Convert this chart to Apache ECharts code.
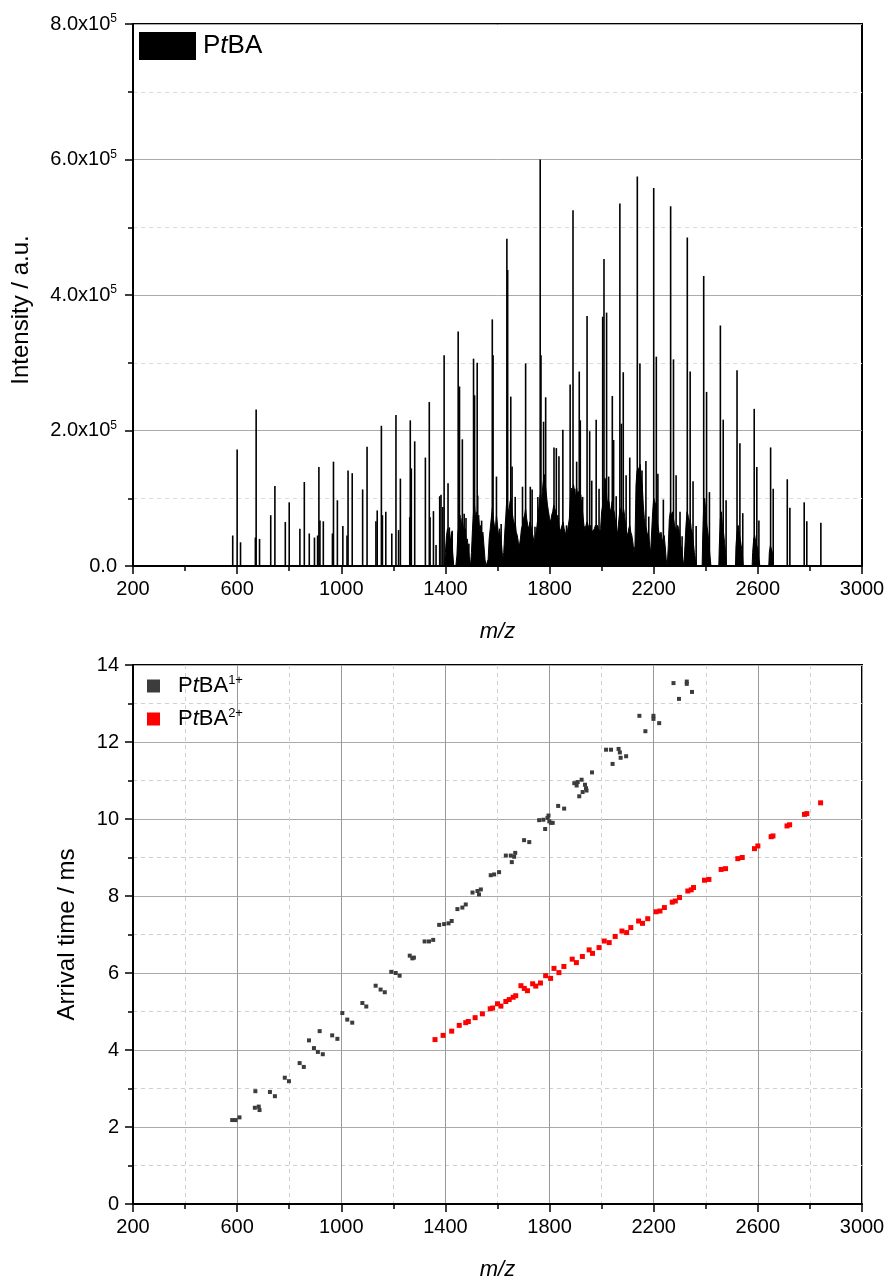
<!DOCTYPE html>
<html>
<head>
<meta charset="utf-8">
<title>PtBA mass spectrum and arrival times</title>
<script src="https://cdn.jsdelivr.net/npm/echarts@6/dist/echarts.min.js"></script>
<style>
  html, body { margin: 0; padding: 0; background: #fff; }
  #chart { width: 888px; height: 1282px; }
</style>
</head>
<body>
<div id="chart"></div>
<script>
// ---- Mass spectrum: main peaks [m/z, intensity (x10^5 a.u.)] ----
const spectrumPeaks = [
  [583,0.45],[600,1.72],[613,0.35],[670,0.42],[673,2.31],[686,0.40],
  [729,0.75],[745,1.18],[785,0.65],[800,0.94],[841,0.55],[858,1.24],
  [877,0.48],[897,0.42],[909,0.45],[914,1.46],[918,0.67],[931,0.66],
  [966,0.48],[970,1.54],[985,0.97],[1006,0.59],[1022,0.45],[1026,1.41],
  [1042,1.37],[1082,1.13],[1099,1.76],[1133,0.66],[1138,0.82],[1154,2.07],
  [1158,0.75],[1171,0.80],[1194,0.48],[1210,2.23],[1220,0.53],[1227,1.29],
  [1263,0.72],[1265,2.15],[1269,1.44],[1282,1.84],[1323,1.60],[1338,2.42],
  [1341,0.72],[1354,0.81],[1364,0.31],[1378,1.03],[1383,1.05],[1390,0.87],
  [1395,3.11],[1410,1.22],[1415,0.57],[1426,0.52],[1449,3.46],[1454,2.65],
  [1465,1.87],[1472,0.77],[1479,0.71],[1490,0.33],[1508,3.06],[1512,2.52],
  [1522,3.00],[1524,1.04],[1539,0.67],[1580,3.64],[1583,3.11],[1596,1.32],
  [1614,0.62],[1636,4.83],[1639,4.37],[1651,2.50],[1656,1.47],[1668,1.02],
  [1696,1.17],[1708,2.99],[1726,1.17],[1733,1.13],[1744,0.58],[1755,1.02],
  [1764,6.00],[1767,3.11],[1777,2.13],[1785,2.49],[1817,1.75],[1826,1.74],
  [1836,1.62],[1851,2.01],[1865,0.60],[1879,2.68],[1890,5.25],[1897,1.14],
  [1904,1.54],[1914,2.87],[1918,2.15],[1927,1.02],[1944,3.69],[1954,1.99],
  [1962,1.26],[1979,2.16],[1990,1.14],[2004,3.68],[2009,4.53],[2019,3.74],
  [2027,1.32],[2041,2.51],[2046,1.86],[2056,1.03],[2070,5.35],[2076,2.10],
  [2083,2.86],[2094,1.34],[2108,1.60],[2137,5.75],[2147,2.99],[2155,1.41],
  [2170,1.55],[2181,0.73],[2200,5.58],[2210,3.09],[2216,1.36],[2237,0.98],
  [2265,5.31],[2276,3.05],[2286,1.34],[2301,0.80],[2309,0.44],[2329,4.85],
  [2340,2.87],[2351,1.25],[2363,0.59],[2392,4.28],[2403,2.57],[2414,1.09],
  [2456,3.55],[2467,2.16],[2478,0.97],[2520,2.89],[2531,1.81],[2542,0.78],
  [2586,2.32],[2596,1.46],[2604,0.67],[2649,1.75],[2659,1.14],[2713,1.28],
  [2723,0.86],[2778,0.94],[2788,0.66],[2842,0.64]
];

// ---- Dense low-intensity background between the main peaks [m/z, intensity (x10^5)] ----
const spectrumBackground = [
  [1396,0],[1400,0.20],[1404,0.45],[1408,0.55],[1412,0.40],[1416,0.50],[1420,0.35],[1424,0.50],[1428,0.20],[1432,0],
  [1440,0],[1444,0.15],[1448,0.50],[1452,0.60],[1456,0.75],[1460,0.55],[1464,0.70],[1468,0.60],[1472,0.45],[1476,0.55],
  [1480,0.35],[1484,0.40],[1488,0.25],[1492,0.10],[1496,0],[1500,0.20],[1504,0.55],[1508,0.80],[1512,0.90],[1516,0.70],
  [1520,0.80],[1524,0.60],[1528,0.75],[1532,0.50],[1536,0.60],[1540,0.45],[1544,0.50],[1548,0.30],[1552,0.10],[1556,0],
  [1564,0.10],[1568,0.40],[1572,0.55],[1576,0.70],[1580,0.85],[1584,0.70],[1588,0.60],[1592,0.55],[1596,0.75],[1600,0.60],
  [1604,0.45],[1608,0.55],[1612,0.40],[1616,0.30],[1620,0.10],[1624,0.20],[1628,0.50],[1632,0.75],[1636,1.00],[1640,0.85],
  [1644,0.80],[1648,0.95],[1652,1.00],[1656,0.80],[1660,0.70],[1664,0.60],[1668,0.65],[1672,0.50],[1676,0.45],[1680,0.35],
  [1684,0.30],[1688,0.40],[1692,0.55],[1696,0.60],[1700,0.70],[1704,0.75],[1708,0.85],[1712,0.70],[1716,0.60],[1720,0.55],
  [1724,0.65],[1728,0.60],[1732,0.50],[1736,0.45],[1740,0.35],[1744,0.40],[1748,0.50],[1752,0.60],[1756,0.75],[1760,0.90],
  [1764,1.05],[1768,0.90],[1772,1.10],[1776,1.25],[1780,1.35],[1784,1.20],[1788,1.05],[1792,0.90],[1796,0.80],[1800,0.70],
  [1804,0.65],[1808,0.75],[1812,0.80],[1816,0.90],[1820,0.85],[1824,0.80],[1828,0.70],[1832,0.75],[1836,0.60],[1840,0.50],
  [1844,0.55],[1848,0.60],[1852,0.65],[1856,0.55],[1860,0.50],[1864,0.45],[1868,0.50],[1872,0.60],[1876,0.70],[1880,1.00],
  [1884,1.15],[1888,1.10],[1892,1.20],[1896,1.10],[1900,1.00],[1904,1.15],[1908,1.05],[1912,1.10],[1916,1.00],[1920,1.05],
  [1924,0.90],[1928,0.75],[1932,0.60],[1936,0.55],[1940,0.60],[1944,0.65],[1948,0.60],[1952,0.55],[1956,0.60],[1960,0.55],
  [1964,0.50],[1968,0.50],[1972,0.55],[1976,0.60],[1980,0.55],[1984,0.60],[1988,0.55],[1992,0.50],[1996,0.55],[2000,0.80],
  [2004,0.90],[2008,1.00],[2012,1.30],[2016,1.25],[2020,1.00],[2024,0.90],[2028,0.95],[2032,0.85],[2036,0.80],[2040,0.95],
  [2044,0.85],[2048,0.80],[2052,0.70],[2056,0.55],[2060,0.45],[2064,0.60],[2068,0.75],[2072,0.85],[2076,0.80],[2080,0.75],
  [2084,0.85],[2088,0.75],[2092,0.60],[2096,0.50],[2100,0.45],[2104,0.55],[2108,0.60],[2112,0.50],[2116,0.45],[2120,0.35],
  [2124,0.20],[2128,0.30],[2132,1.20],[2136,1.40],[2140,1.45],[2144,1.40],[2148,1.50],[2152,1.30],[2156,1.20],[2160,0.90],
  [2164,0.70],[2168,0.60],[2172,0.55],[2176,0.45],[2180,0.50],[2184,0.30],[2188,0.20],[2192,0.50],[2196,0.80],[2200,1.00],
  [2204,0.95],[2208,0.90],[2212,0.70],[2216,0.60],[2220,0.50],[2224,0.45],[2228,0.50],[2232,0.40],[2236,0.35],[2240,0.45],
  [2244,0.30],[2248,0.10],[2252,0],[2256,0.30],[2260,0.70],[2264,0.80],[2268,0.75],[2272,0.80],[2276,0.70],[2280,0.60],
  [2284,0.55],[2288,0.50],[2292,0.60],[2296,0.55],[2300,0.45],[2304,0.30],[2308,0.25],[2312,0.10],[2316,0],[2320,0.30],
  [2324,0.60],[2328,0.80],[2332,0.75],[2336,0.60],[2340,0.70],[2344,0.55],[2348,0.50],[2352,0.35],[2356,0.20],[2360,0.10],
  [2364,0],[2386,0],[2388,0.40],[2392,0.90],[2396,1.00],[2400,0.80],[2404,0.60],[2408,0.50],[2412,0.35],[2416,0.15],
  [2420,0],[2450,0],[2452,0.30],[2456,0.70],[2460,0.80],[2464,0.60],[2468,0.50],[2472,0.35],[2476,0.20],[2480,0],
  [2514,0],[2516,0.30],[2520,0.50],[2524,0.60],[2528,0.50],[2532,0.40],[2536,0.30],[2540,0.20],[2544,0],
  [2578,0],[2580,0.20],[2584,0.40],[2588,0.45],[2592,0.35],[2596,0.30],[2600,0.25],[2604,0.10],[2608,0],
  [2642,0],[2644,0.20],[2648,0.30],[2652,0.25],[2656,0.20],[2660,0]
];

// ---- Arrival time vs m/z: singly charged ions [m/z, ms] ----
const arrivalCharge1 = [
  [581,2.18],[594,2.18],[609,2.25],[670,2.93],[668,2.50],[683,2.53],[686,2.44],
  [726,2.91],[745,2.80],[783,3.28],[799,3.19],[840,3.66],[856,3.56],
  [876,4.25],[895,4.05],[910,3.95],[929,3.89],[917,4.49],[965,4.38],[985,4.29],
  [1004,4.96],[1023,4.79],[1042,4.71],[1081,5.22],[1096,5.13],
  [1132,5.67],[1151,5.57],[1167,5.50],[1192,6.03],[1209,6.00],[1224,5.93],
  [1263,6.45],[1273,6.38],[1279,6.40],[1320,6.82],[1337,6.82],[1353,6.86],
  [1376,7.25],[1395,7.27],[1412,7.29],[1424,7.35],[1446,7.66],[1465,7.70],[1478,7.78],
  [1504,8.09],[1523,8.13],[1529,8.04],[1536,8.17],[1574,8.54],[1587,8.56],[1606,8.62],
  [1632,9.05],[1651,9.05],[1655,8.88],[1664,9.02],[1668,9.12],[1702,9.45],[1722,9.40],
  [1760,9.97],[1776,9.98],[1783,9.74],[1792,10.03],[1796,10.09],[1799,9.94],[1805,9.90],[1812,9.90],
  [1833,10.34],[1856,10.27],[1895,10.93],[1904,10.87],[1908,10.96],[1914,10.59],[1923,11.02],
  [1927,10.70],[1936,10.89],[1940,10.80],[1942,10.74],[1963,11.21],
  [2017,11.80],[2036,11.80],[2042,11.43],[2065,11.82],[2070,11.73],[2073,11.59],[2094,11.63],
  [2145,12.68],[2168,12.28],[2199,12.68],[2199,12.60],[2221,12.49],
  [2276,13.53],[2297,13.12],[2327,13.57],[2327,13.51],[2347,13.30]
];

// ---- Arrival time vs m/z: doubly charged ions [m/z, ms] ----
const arrivalCharge2 = [
  [1360,4.27],[1391,4.38],[1424,4.49],[1453,4.64],[1478,4.71],[1488,4.74],[1514,4.84],
  [1542,4.94],[1572,5.07],[1581,5.09],[1600,5.20],[1613,5.14],[1632,5.26],[1645,5.31],
  [1660,5.37],[1670,5.41],[1690,5.67],[1703,5.60],[1715,5.54],[1735,5.72],[1747,5.66],
  [1765,5.74],[1785,5.93],[1804,5.86],[1817,6.12],[1836,6.01],[1855,6.17],[1887,6.36],
  [1903,6.27],[1926,6.43],[1952,6.60],[1965,6.51],[1990,6.66],[2010,6.83],[2029,6.79],
  [2052,6.95],[2078,7.09],[2096,7.05],[2112,7.18],[2142,7.35],[2157,7.29],[2177,7.41],
  [2209,7.59],[2224,7.61],[2241,7.70],[2271,7.84],[2283,7.87],[2299,7.96],[2331,8.13],
  [2344,8.16],[2353,8.22],[2395,8.41],[2412,8.43],[2459,8.69],[2476,8.71],[2523,8.97],
  [2540,9.00],[2587,9.23],[2600,9.30],[2651,9.54],[2658,9.56],[2712,9.82],[2722,9.85],
  [2779,10.12],[2788,10.14],[2841,10.42]
];

// ---- Axis ranges ----
const mzRange = { min: 200, max: 3000, interval: 400 };
const intensityRange = { min: 0, max: 8, interval: 2 };   // x10^5
const timeRange = { min: 0, max: 14, interval: 2 };

const FONT = '"Liberation Sans", Arial, sans-serif';

const chart = echarts.init(document.getElementById('chart'), null, { renderer: 'canvas' });

function xAxisFor(gridIndex, gridLines) {
  return {
    type: 'value', gridIndex,
    min: mzRange.min, max: mzRange.max, interval: mzRange.interval,
    name: 'm/z', nameLocation: 'middle', nameGap: 55,
    nameTextStyle: { fontFamily: FONT, fontSize: 22, fontStyle: 'italic', color: '#000' },
    axisLine: { show: true, onZero: false, lineStyle: { color: '#000', width: 2 } },
    axisTick: { show: true, inside: false, length: 8, lineStyle: { color: '#000', width: 1.5 } },
    minorTick: { show: true, splitNumber: 2, length: 5, lineStyle: { color: '#000', width: 1.5 } },
    axisLabel: { fontFamily: FONT, fontSize: 20, color: '#000', margin: 13, formatter: v => String(v) },
    splitLine: { show: gridLines, lineStyle: { color: '#999', width: 1 } },
    minorSplitLine: { show: gridLines, lineStyle: { color: '#d0d0d0', width: 1, type: [4, 4] } }
  };
}

const option = {
  backgroundColor: '#fff',
  animation: false,
  grid: [
    { left: 133, right: 26, top: 24, bottom: 716, show: true, borderColor: '#000', borderWidth: 2, backgroundColor: 'transparent' },
    { left: 133, right: 26, top: 665, bottom: 78, show: true, borderColor: '#000', borderWidth: 2, backgroundColor: 'transparent' }
  ],
  legend: [
    {
      data: ['PtBA'], left: 134, top: 27, orient: 'vertical',
      icon: 'rect', itemWidth: 57, itemHeight: 28,
      formatter: () => '{n|P}{i|t}{n|BA}',
      textStyle: {
        padding: [0, 0, 0, 2],
        rich: {
          n: { fontFamily: FONT, fontSize: 26, color: '#000' },
          i: { fontFamily: FONT, fontSize: 26, fontStyle: 'italic', color: '#000' }
        }
      },
      selectedMode: false
    },
    {
      data: ['PtBA1', 'PtBA2'], left: 142, top: 669, orient: 'vertical',
      icon: 'rect', itemWidth: 13, itemHeight: 13, itemGap: 10,
      formatter: name => '{n|P}{i|t}{n|BA}{s|' + (name === 'PtBA1' ? '1+' : '2+') + '}',
      textStyle: {
        padding: [0, 0, 0, 13],
        rich: {
          n: { fontFamily: FONT, fontSize: 22, color: '#000', lineHeight: 24 },
          i: { fontFamily: FONT, fontSize: 22, fontStyle: 'italic', color: '#000', lineHeight: 24 },
          s: { fontFamily: FONT, fontSize: 13, color: '#000', verticalAlign: 'top', lineHeight: 13, padding: [0, 0, 8, 0] }
        }
      },
      selectedMode: false
    }
  ],
  xAxis: [xAxisFor(0, false), xAxisFor(1, true)],
  yAxis: [
    {
      type: 'value', gridIndex: 0,
      min: intensityRange.min, max: intensityRange.max, interval: intensityRange.interval,
      name: 'Intensity / a.u.', nameLocation: 'middle', nameGap: 100,
      nameTextStyle: { fontFamily: FONT, fontSize: 24, color: '#000', padding: [0, 30, 0, 0] },
      axisLine: { show: true, onZero: false, lineStyle: { color: '#000', width: 2 } },
      axisTick: { show: true, inside: false, length: 8, lineStyle: { color: '#000', width: 1.5 } },
      minorTick: { show: true, splitNumber: 2, length: 5, lineStyle: { color: '#000', width: 1.5 } },
      axisLabel: {
        fontFamily: FONT, fontSize: 20, color: '#000', margin: 16,
        formatter: v => v === 0 ? '0.0' : '{m|' + v.toFixed(1) + 'x10}{e|5}',
        rich: {
          m: { fontFamily: FONT, fontSize: 20, color: '#000', lineHeight: 22 },
          e: { fontFamily: FONT, fontSize: 12, color: '#000', verticalAlign: 'top', lineHeight: 12, padding: [0, 0, 8, 0] }
        }
      },
      splitLine: { show: true, lineStyle: { color: '#aaa', width: 1 } },
      minorSplitLine: { show: true, lineStyle: { color: '#dcdcdc', width: 1, type: [4, 4] } }
    },
    {
      type: 'value', gridIndex: 1,
      min: timeRange.min, max: timeRange.max, interval: timeRange.interval,
      name: 'Arrival time / ms', nameLocation: 'middle', nameGap: 54,
      nameTextStyle: { fontFamily: FONT, fontSize: 24, color: '#000' },
      axisLine: { show: true, onZero: false, lineStyle: { color: '#000', width: 2 } },
      axisTick: { show: true, inside: false, length: 8, lineStyle: { color: '#000', width: 1.5 } },
      minorTick: { show: true, splitNumber: 2, length: 5, lineStyle: { color: '#000', width: 1.5 } },
      axisLabel: { fontFamily: FONT, fontSize: 20, color: '#000', margin: 14 },
      splitLine: { show: true, lineStyle: { color: '#aaa', width: 1.2 } },
      minorSplitLine: { show: true, lineStyle: { color: '#d0d0d0', width: 1, type: [4, 4] } }
    }
  ],
  series: [
    {
      name: 'PtBA', type: 'line', xAxisIndex: 0, yAxisIndex: 0,
      data: spectrumBackground, showSymbol: false, symbol: 'none',
      lineStyle: { color: '#000', width: 1 },
      areaStyle: { color: '#000', opacity: 1 },
      itemStyle: { color: '#000' },
      silent: true, z: 2
    },
    {
      name: 'PtBA', type: 'custom', xAxisIndex: 0, yAxisIndex: 0,
      data: spectrumPeaks,
      encode: { x: 0, y: 1 },
      itemStyle: { color: '#000' },
      renderItem: (params, api) => {
        const base = api.coord([api.value(0), 0]);
        const top = api.coord([api.value(0), api.value(1)]);
        return {
          type: 'rect',
          shape: { x: base[0] - 0.8, y: top[1], width: 1.6, height: base[1] - top[1] },
          style: { fill: '#000' }
        };
      },
      silent: true, z: 3
    },
    {
      name: 'PtBA1', type: 'scatter', xAxisIndex: 1, yAxisIndex: 1,
      data: arrivalCharge1, symbol: 'rect', symbolSize: 4,
      itemStyle: { color: '#3c3c3c', opacity: 1 }, silent: true, z: 3
    },
    {
      name: 'PtBA2', type: 'scatter', xAxisIndex: 1, yAxisIndex: 1,
      data: arrivalCharge2, symbol: 'rect', symbolSize: 5,
      itemStyle: { color: '#ff0000', opacity: 1 }, silent: true, z: 3
    }
  ]
};

chart.setOption(option);
</script>
</body>
</html>
